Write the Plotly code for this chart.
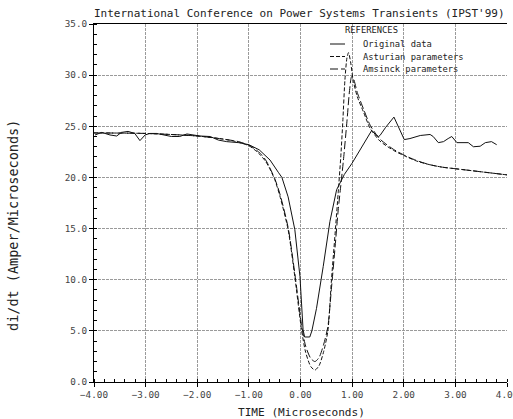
import plotly.graph_objects as go

# ---- data ----
orig_t = [-3.98, -3.85, -3.69, -3.56, -3.47, -3.34, -3.21, -3.11, -3.01, -2.92, -2.79, -2.6, -2.5,
          -2.34, -2.2, -1.95, -1.75, -1.59, -1.43, -1.2, -1.0, -0.8, -0.59, -0.43, -0.36, -0.24,
          -0.11, -0.01, 0.05, 0.08, 0.18, 0.22, 0.31, 0.44, 0.57, 0.7, 0.77, 0.85, 1.0, 1.12,
          1.28, 1.38, 1.45, 1.51, 1.54, 1.65, 1.81, 2.01, 2.12, 2.32, 2.51, 2.57, 2.67, 2.77,
          2.86, 2.93, 3.03, 3.25, 3.35, 3.48, 3.58, 3.7, 3.8]
orig_v = [24.15, 24.4, 24.15, 24.05, 24.4, 24.5, 24.3, 23.6, 24.15, 24.3, 24.3, 24.15, 24.0,
          24.0, 24.25, 24.05, 24.0, 23.65, 23.5, 23.4, 23.2, 22.7, 21.7, 20.5, 20.0, 18.1,
          14.9, 10.3, 5.1, 4.4, 4.4, 5.0, 7.2, 11.3, 15.7, 18.8, 19.5, 20.3, 21.4, 22.4,
          23.65, 24.6, 24.2, 24.0, 24.1, 24.9, 25.9, 23.7, 23.8, 24.1, 24.2, 24.0, 23.4, 23.5,
          23.8, 24.0, 23.4, 23.4, 23.0, 23.05, 23.4, 23.5, 23.2]

ast_t = [-4.0, -3.0, -2.0, -1.5, -1.2, -1.0, -0.9, -0.78, -0.68, -0.6, -0.5, -0.4, -0.24, -0.11,
         0.02, 0.1, 0.2, 0.28, 0.36, 0.45, 0.53, 0.6, 0.67, 0.73, 0.78, 0.82, 0.86, 0.9, 0.93,
         0.97, 1.02, 1.1, 1.22, 1.35, 1.54, 1.8, 2.02, 2.25, 2.5, 2.75, 3.0, 3.5, 4.0]
ast_v = [24.35, 24.3, 24.05, 23.75, 23.45, 23.1, 22.75, 22.2, 21.6, 20.9, 19.8, 18.2, 14.9, 10.3,
         5.1, 2.9, 1.5, 1.17, 1.6, 3.0, 5.0, 10.0, 14.5, 18.5, 22.0, 25.5, 29.5, 31.7, 32.2,
         31.3, 29.5, 27.9, 26.4, 24.8, 23.55, 22.65, 22.1, 21.6, 21.25, 21.0, 20.85, 20.55, 20.25]

ams_t = [-4.0, -3.0, -2.0, -1.5, -1.2, -1.0, -0.9, -0.78, -0.68, -0.6, -0.5, -0.4, -0.24, -0.11,
         0.02, 0.1, 0.2, 0.28, 0.36, 0.45, 0.53, 0.6, 0.67, 0.73, 0.78, 0.83, 0.9, 0.95, 0.99,
         1.03, 1.1, 1.22, 1.35, 1.54, 1.8, 2.02, 2.25, 2.5, 2.75, 3.0, 3.5, 4.0]
ams_v = [24.35, 24.3, 24.05, 23.75, 23.5, 23.15, 22.85, 22.35, 21.75, 21.0, 19.9, 18.4, 15.1, 10.6,
         5.6, 3.5, 2.3, 2.0, 2.4, 3.7, 5.4, 9.2, 13.2, 16.8, 19.2, 21.6, 25.5, 28.5, 29.85,
         29.6, 28.3, 26.7, 25.1, 23.75, 22.75, 22.15, 21.65, 21.25, 21.0, 20.85, 20.55, 20.25]

series_names = ["Original data", "Asturian parameters", "Amsinck parameters"]
series_dash = ["solid", "4px,2px", "8px,3px"]
series_shape = ["linear", "spline", "spline"]

x_ticks = [-4, -3, -2, -1, 0, 1, 2, 3, 4]
y_ticks = [0, 5, 10, 15, 20, 25, 30, 35]

MONO = "DejaVu Sans Mono"
W, H = 513, 419
L, R, T, B = 94, 6, 24, 37
PW, PH = W - L - R, H - T - B


def px_x(p):
    return (p - L) / PW


def px_y(p):
    return (H - B - p) / PH


fig = go.Figure()
for name, t, v, dash, shp in zip(series_names, [orig_t, ast_t, ams_t], [orig_v, ast_v, ams_v],
                                 series_dash, series_shape):
    line = dict(color="#111", width=1, dash=dash, shape=shp)
    if shp == "spline":
        line["smoothing"] = 0.7
    fig.add_trace(go.Scatter(x=t, y=v, mode="lines", name=name, line=line, showlegend=False))

axis_common = dict(
    showline=True, linecolor="#000", linewidth=1,
    showgrid=True, gridcolor="#9a9a9a", gridwidth=1, griddash="3px,1px",
    zeroline=False, ticks="outside", ticklen=4, tickcolor="#000",
    tickfont=dict(family=MONO, size=9.3, color="#444"),
    automargin=False, ticklabeloverflow="allow",
)

fig.update_xaxes(range=[-4, 4], tickvals=x_ticks, tickformat=".2f", mirror=True,
                 minor=dict(dtick=0.2, ticks="inside", ticklen=3, tickcolor="#000", showgrid=False),
                 **axis_common)
fig.update_yaxes(range=[0, 35], tickvals=y_ticks, tickformat=".1f",
                 minor=dict(dtick=1, ticks="inside", ticklen=3, tickcolor="#000", showgrid=False),
                 **axis_common)

annotations = [
    dict(text="International Conference on Power Systems Transients (IPST'99)",
         xref="paper", yref="paper", x=px_x(92), y=px_y(14), xanchor="left", yanchor="middle",
         showarrow=False, font=dict(family=MONO, size=11.0, color="#222")),
    dict(text="TIME (Microseconds)", xref="paper", yref="paper", x=px_x(301.5), y=px_y(412),
         xanchor="center", yanchor="middle", showarrow=False,
         font=dict(family=MONO, size=11.1, color="#222")),
    dict(text="di/dt (Amper/Microseconds)", xref="paper", yref="paper", x=px_x(13), y=px_y(226),
         xanchor="center", yanchor="middle", textangle=-90, showarrow=False,
         font=dict(family=MONO, size=13.5, color="#222")),
    dict(text="REFERENCES", xref="paper", yref="paper", x=px_x(371), y=px_y(30),
         xanchor="center", yanchor="middle", showarrow=False,
         font=dict(family=MONO, size=8.8, color="#222")),
]
shapes = []
legend_rows = [44, 56.5, 69]
for name, dash, row in zip(series_names, series_dash, legend_rows):
    annotations.append(dict(text=name, xref="paper", yref="paper", x=px_x(361), y=px_y(row),
                            xanchor="left", yanchor="middle", showarrow=False,
                            font=dict(family=MONO, size=8.8, color="#222")))
    shapes.append(dict(type="line", xref="paper", yref="paper", x0=px_x(330), x1=px_x(345),
                       y0=px_y(row), y1=px_y(row), line=dict(color="#111", width=1, dash=dash)))

fig.update_layout(
    width=W, height=H,
    margin=dict(l=L, r=R, t=T, b=B),
    paper_bgcolor="white", plot_bgcolor="white",
    annotations=annotations, shapes=shapes,
    showlegend=False,
)

fig.write_html("out.html")
